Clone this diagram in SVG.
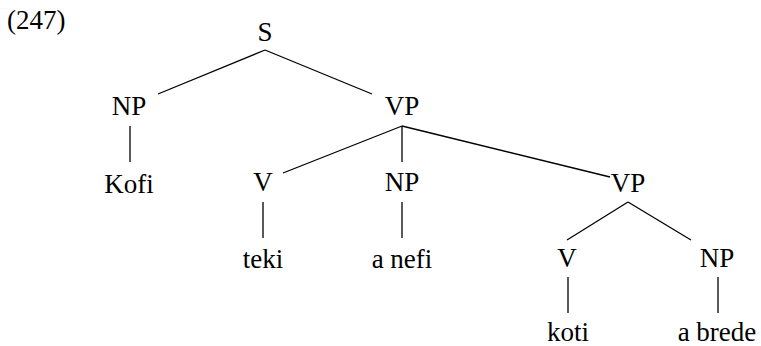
<svg xmlns="http://www.w3.org/2000/svg" width="761" height="346" viewBox="0 0 761 346">
<style>
.t{font-family:'Liberation Serif','DejaVu Serif',serif;font-size:27px;fill:#000;text-anchor:middle}
.e line{stroke:#000;stroke-width:1.3}
</style>
<rect width="761" height="346" fill="#fff"/>
<text class="t" x="7" y="29" text-anchor="start" style="text-anchor:start">(247)</text>
<g class="e" id="edges">
<line x1="265" y1="50" x2="158" y2="94"/>
<line x1="265" y1="50" x2="372" y2="94"/>
<line x1="130" y1="126" x2="130" y2="162"/>
<line x1="402" y1="126" x2="283" y2="173"/>
<line x1="402" y1="126" x2="402" y2="162"/>
<line x1="402" y1="126" x2="610" y2="177"/>
<line x1="263" y1="202" x2="263" y2="238"/>
<line x1="402" y1="202" x2="402" y2="238"/>
<line x1="628" y1="202" x2="567" y2="240"/>
<line x1="628" y1="202" x2="691" y2="240"/>
<line x1="568" y1="277" x2="568" y2="313"/>
<line x1="718" y1="277" x2="718" y2="313"/>
</g>
<g id="n-S"><text class="t" x="265" y="41">S</text></g>
<g id="n-NP1"><text class="t" x="129" y="115">NP</text></g>
<g id="n-VP1"><text class="t" x="402" y="115">VP</text></g>
<g id="n-Kofi"><text class="t" x="129" y="193">Kofi</text></g>
<g id="n-V1"><text class="t" x="263" y="191">V</text></g>
<g id="n-NP2"><text class="t" x="402" y="191">NP</text></g>
<g id="n-VP2"><text class="t" x="628" y="192">VP</text></g>
<g id="n-teki"><text class="t" x="263" y="268">teki</text></g>
<g id="n-anefi"><text class="t" x="402" y="268">a nefi</text></g>
<g id="n-V2"><text class="t" x="567" y="267">V</text></g>
<g id="n-NP3"><text class="t" x="717" y="267">NP</text></g>
<g id="n-koti"><text class="t" x="568" y="341">koti</text></g>
<g id="n-abrede"><text class="t" x="717" y="341">a brede</text></g>
</svg>
